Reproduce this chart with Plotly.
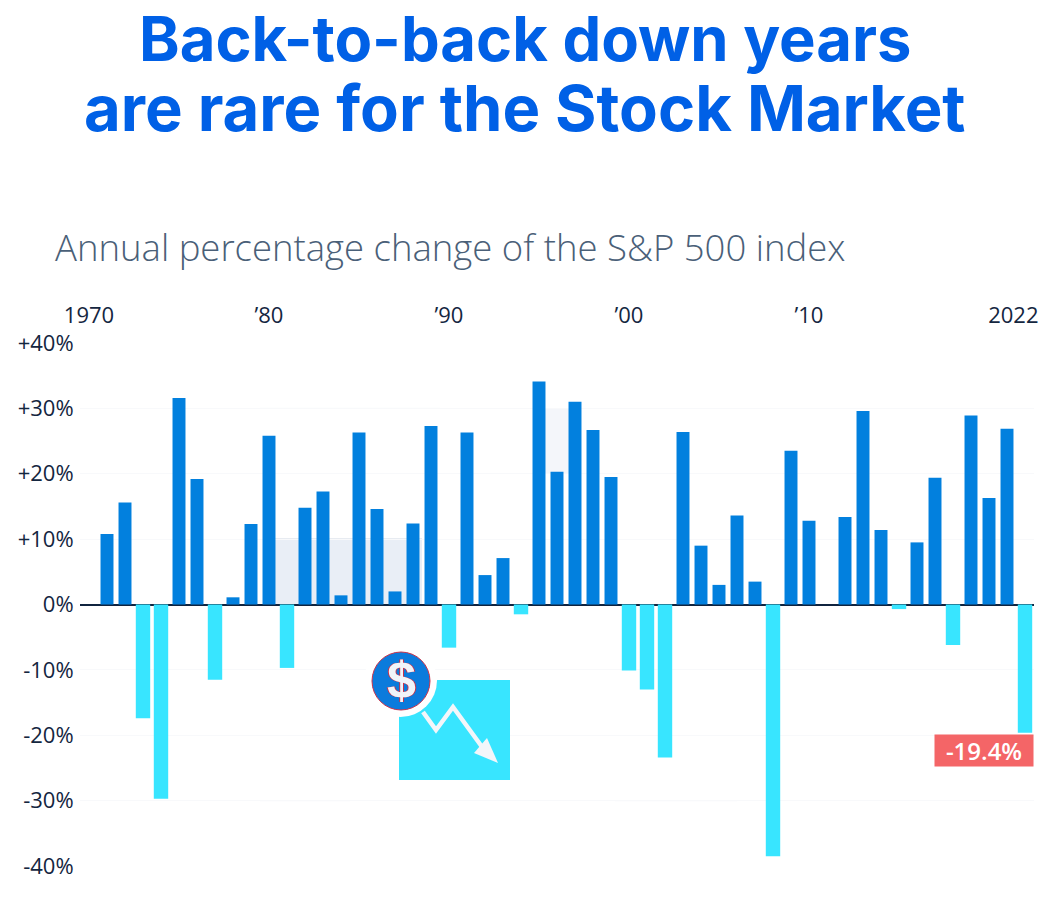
import plotly.graph_objects as go

W, H = 1050, 897
ML, MR, MT, MB = 80, 16, 343, 31

years = list(range(1971, 2023))
changes = [10.8, 15.6, -17.4, -29.7, 31.6, 19.2, -11.5, 1.1, 12.3, 25.8,
           -9.7, 14.8, 17.3, 1.4, 26.3, 14.6, 2.0, 12.4, 27.3, -6.6,
           26.3, 4.5, 7.1, -1.5, 34.1, 20.3, 31.0, 26.7, 19.5, -10.1,
           -13.0, -23.4, 26.4, 9.0, 3.0, 13.6, 3.5, -38.5, 23.5, 12.8,
           0.0, 13.4, 29.6, 11.4, -0.7, 9.5, 19.4, -6.2, 28.9, 16.3, 26.9, -19.6]
y_ticks = [-40, -30, -20, -10, 0, 10, 20, 30, 40]
y_labels = ["-40%", "-30%", "-20%", "-10%", "0%", "+10%", "+20%", "+30%", "+40%"]
x_ticks = [1970, 1980, 1990, 2000, 2010, 2021.35]
x_labels = ["1970", "’80", "’90", "’00", "’10", "2022"]

BLUE, CYAN = "#0280DE", "#38E5FF"
TICK = "#14263F"
FONT = "Open Sans, sans-serif"

def px(x):
    return (x - ML) / (W - ML - MR)
def py(y):
    return (H - MB - y) / (H - MT - MB)

up_x = [y for y, v in zip(years, changes) if v > 0]
up_v = [v for v in changes if v > 0]
dn_x = [y for y, v in zip(years, changes) if v < 0]
dn_v = [v for v in changes if v < 0]

fig = go.Figure()
fig.add_bar(x=up_x, y=up_v, width=0.72, marker=dict(color=BLUE, line_width=0), hoverinfo="x+y")
fig.add_bar(x=dn_x, y=dn_v, width=0.8, marker=dict(color=CYAN, line_width=0), hoverinfo="x+y")

shapes = [
    dict(type="rect", xref="x", yref="y", x0=1980.2, x1=1988.5, y0=0, y1=10, layer="below",
         fillcolor="#E9EEF6", line_width=0),
    dict(type="line", xref="x", yref="y", x0=1980.2, x1=1988.5, y0=10, y1=10, layer="below",
         line=dict(color="#BFC9D9", width=1)),
    dict(type="rect", xref="x", yref="y", x0=1995, x1=1997, y0=20, y1=30, layer="below",
         fillcolor="#F4F6FA", line_width=0),
    dict(type="line", xref="x", yref="y", x0=1979.5, x1=1989.5, y0=30, y1=30, layer="below",
         line=dict(color="#EEF0F4", width=1)),
    dict(type="line", xref="x", yref="y", x0=1979.5, x1=1984.5, y0=-30, y1=-30, layer="below",
         line=dict(color="#EEF0F4", width=1)),
    dict(type="line", xref="x", yref="y", x0=1999.2, x1=2006, y0=-30, y1=-30, layer="below",
         line=dict(color="#EEF0F4", width=1)),
    dict(type="rect", xref="paper", yref="paper", x0=px(399), x1=px(510), y0=py(780), y1=py(680),
         fillcolor=CYAN, line_width=0),
    dict(type="circle", xref="paper", yref="paper", x0=px(364), x1=px(437), y0=py(717), y1=py(644),
         fillcolor="white", line_width=0),
    dict(type="circle", xref="paper", yref="paper", x0=px(372), x1=px(430), y0=py(710), y1=py(652),
         fillcolor="#0B7BDC", line=dict(color="#C8324A", width=1)),
    dict(type="path", xref="paper", yref="paper",
         path=f"M {px(423)} {py(712)} L {px(436)} {py(730)} L {px(453)} {py(707)} L {px(485)} {py(751)}",
         line=dict(color="#F3F6FA", width=4.5)),
    dict(type="path", xref="paper", yref="paper",
         path=f"M {px(498)} {py(763)} L {px(474)} {py(753)} L {px(487)} {py(738)} Z",
         fillcolor="#F3F6FA", line_width=0),
]

annotations = [
    dict(text="<b>Back-to-back down years</b>", xref="paper", yref="paper", x=px(525), y=py(38),
         xanchor="center", yanchor="middle", showarrow=False,
         font=dict(family="Inter, sans-serif", size=61.5, color="#0060E6")),
    dict(text="<b>are rare for the Stock Market</b>", xref="paper", yref="paper", x=px(525), y=py(108),
         xanchor="center", yanchor="middle", showarrow=False,
         font=dict(family="Inter, sans-serif", size=63.3, color="#0060E6")),
    dict(text="Annual percentage change of the S&amp;P 500 index", xref="paper", yref="paper",
         x=px(53), y=py(247), xanchor="left", yanchor="middle", showarrow=False,
         font=dict(family=FONT, size=36.5, color="#4A6078", weight=300)),
    dict(text="<b>$</b>", xref="paper", yref="paper", x=px(401), y=py(680),
         xanchor="center", yanchor="middle", showarrow=False,
         font=dict(family="Liberation Sans, sans-serif", size=52, color="#F1F4F9",
                   shadow="1px 0 0 #C8324A, -1px 0 0 #C8324A")),
    dict(text="-19.4%", xref="paper", yref="paper", x=px(1034), y=py(750.5),
         xanchor="right", yanchor="middle", showarrow=False, width=98, height=31,
         bgcolor="#F46567", align="center", borderpad=0,
         font=dict(family=FONT, size=24, color="white", weight=600)),
]

fig.update_layout(
    width=W, height=H, showlegend=False, barmode="overlay",
    margin=dict(l=ML, r=MR, t=MT, b=MB, autoexpand=False),
    paper_bgcolor="white", plot_bgcolor="white",
    shapes=shapes, annotations=annotations,
    xaxis=dict(side="top", range=[1969.5, 2022.5], tickmode="array", tickvals=x_ticks,
               ticktext=x_labels, showgrid=False, zeroline=False, showline=False,
               ticks="outside", ticklen=10, tickcolor="rgba(0,0,0,0)",
               tickfont=dict(family=FONT, size=22, color=TICK)),
    yaxis=dict(range=[-40, 40], tickmode="array", tickvals=y_ticks, ticktext=y_labels,
               showgrid=True, gridcolor="#F8F9FB", gridwidth=1,
               zeroline=True, zerolinecolor="#10243F", zerolinewidth=1.5, showline=False,
               ticks="outside", ticklen=1, tickcolor="rgba(0,0,0,0)",
               tickfont=dict(family=FONT, size=22, color=TICK)),
)

fig.write_html("out.html", config={"displayModeBar": False},
               post_script="document.body.style.margin='0';")
